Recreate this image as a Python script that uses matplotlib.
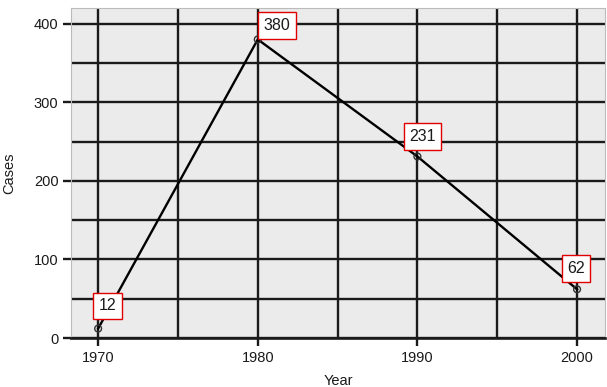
import matplotlib
matplotlib.use("Agg")
import matplotlib.pyplot as plt
import numpy as np

years = [1970, 1980, 1990, 2000]
cases = [12, 380, 231, 62]
labels = ["12", "380", "231", "62"]

# label box offsets in points (dx, dy) from each point
offsets = [(6.8, 11.0), (13.7, 4.6), (3.6, 9.0), (-0.7, 9.6)]

plt.rcParams['font.family'] = ['Liberation Sans', 'DejaVu Sans']

fig = plt.figure(figsize=(6.07, 3.87), dpi=100)
ax = fig.add_axes([71/607, 1 - 338/387, 534/607, 330/387])
ax.set_facecolor("#ebebeb")

ax.set_xlim(1968.3, 2001.75)
ax.set_ylim(0, 420)

ax.set_xticks([1970, 1980, 1990, 2000])
ax.set_xticks([1975, 1985, 1995], minor=True)
ax.set_yticks([0, 100, 200, 300, 400])
ax.set_yticks([50, 150, 250, 350], minor=True)

ax.grid(True, which="both", color="#1a1a1a", linewidth=1.7)
ax.set_axisbelow(True)

for s in ["top", "right", "left"]:
    ax.spines[s].set_color("#bbbbbb")
    ax.spines[s].set_linewidth(0.8)
ax.spines["bottom"].set_color("#1a1a1a")
ax.spines["bottom"].set_linewidth(1.9)

ax.tick_params(which="major", length=6, width=1.7, color="#1a1a1a",
               labelsize=10.5, labelcolor="#1a1a1a", pad=3)
ax.tick_params(which="minor", length=0)

ax.plot(years, cases, color="black", linewidth=1.7, zorder=3)
ax.scatter(years, cases, s=24, facecolors="none", edgecolors="#333333",
           linewidths=1.0, zorder=4)

for x, y, t, (dx, dy) in zip(years, cases, labels, offsets):
    ax.annotate(t, (x, y), xytext=(dx, dy), textcoords="offset points",
                ha="center", va="bottom", fontsize=11.5, color="#1a1a1a",
                bbox=dict(boxstyle="square,pad=0.35", fc="white", ec="#e00000", lw=1.0),
                zorder=5)

ax.set_xlabel("Year", fontsize=10.5, color="#1a1a1a", labelpad=7)
ax.set_ylabel("Cases", fontsize=10.5, color="#1a1a1a", labelpad=13)

fig.savefig("out.png", dpi=100)
